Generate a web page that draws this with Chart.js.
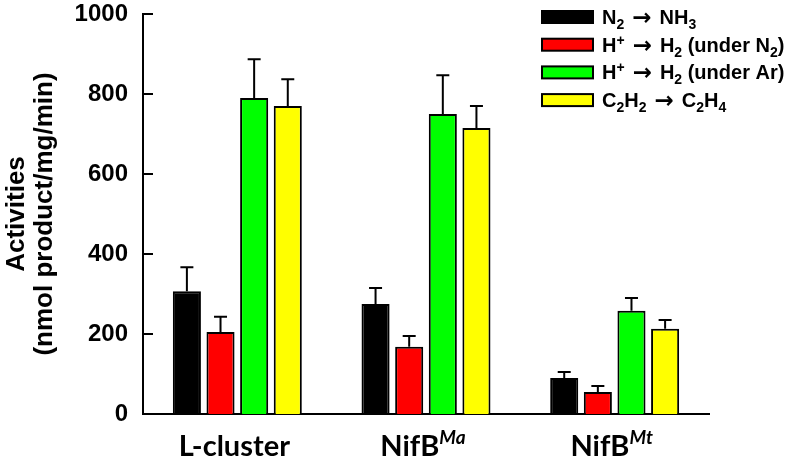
<!DOCTYPE html>
<html>
<head>
<meta charset="utf-8">
<script src="https://cdn.jsdelivr.net/npm/chart.js@4.4.0/dist/chart.umd.min.js"></script>
<style>
  html, body { margin: 0; padding: 0; background: #fff; }
</style>
</head>
<body>
<canvas id="myChart" width="796" height="468"></canvas>
<script>
// categorias e series (markup: _{..} subscrito, ^{..} sobrescrito)
const categories = ['L-cluster', 'NifB^{Ma}', 'NifB^{Mt}'];
const seriesNames = ['N_{2} → NH_{3}', 'H^{+} → H_{2} (under N_{2})', 'H^{+} → H_{2} (under Ar)', 'C_{2}H_{2} → C_{2}H_{4}'];
const seriesColors = ['#000000', '#ff0000', '#00ff00', '#ffff00'];

const n2ToNh3 = [307, 275, 90];
const n2ToNh3Err = [60, 40, 15];
const h2UnderN2 = [205, 168, 55];
const h2UnderN2Err = [38, 27, 15];
const h2UnderAr = [790, 750, 258];
const h2UnderArErr = [97, 97, 32];
const c2h2ToC2h4 = [770, 715, 213];
const c2h2ToC2h4Err = [67, 55, 22];

const yTicks = [0, 200, 400, 600, 800, 1000];

const seriesValues = [n2ToNh3, h2UnderN2, h2UnderAr, c2h2ToC2h4];
const seriesErrors = [n2ToNh3Err, h2UnderN2Err, h2UnderArErr, c2h2ToC2h4Err];

function parseRich(str) {
  const parts = [];
  const re = /([_^])\{([^}]*)\}|( → )/g;
  let last = 0, m;
  while ((m = re.exec(str)) !== null) {
    if (m.index > last) parts.push({ t: str.slice(last, m.index), k: 'n' });
    if (m[3]) parts.push({ t: m[3], k: 'arrow' });
    else parts.push({ t: m[2], k: m[1] === '_' ? 'sub' : 'sup' });
    last = re.lastIndex;
  }
  if (last < str.length) parts.push({ t: str.slice(last), k: 'n' });
  return parts;
}

// desenha texto com subscrito/sobrescrito
function drawRich(ctx, str, x, y, fonts, align) {
  const parts = parseRich(str);
  let total = 0;
  parts.forEach(p => { ctx.font = fonts[p.k].font; p.w = ctx.measureText(p.t).width; total += p.w; });
  let cx = align === 'center' ? x - total / 2 : x;
  ctx.textBaseline = 'alphabetic';
  ctx.textAlign = 'left';
  parts.forEach(p => {
    ctx.font = fonts[p.k].font;
    ctx.fillText(p.t, cx, y + fonts[p.k].dy);
    cx += p.w;
  });
}

const legendFonts = {
  n: { font: 'bold 20px "Liberation Sans", Arial', dy: 0 },
  sub: { font: 'bold 14px "Liberation Sans", Arial', dy: 5 },
  sup: { font: 'bold 14px "Liberation Sans", Arial', dy: -7 },
  arrow: { font: 'bold 23px "DejaVu Sans"', dy: 1 }
};
const catFonts = {
  n: { font: 'bold 29px Lato, "Liberation Sans"', dy: 0 },
  sub: { font: 'bold 18px Lato', dy: 6 },
  sup: { font: 'italic bold 19px Lato, "Liberation Sans"', dy: -12 },
  arrow: { font: 'bold 29px Lato', dy: 0 }
};

const extras = {
  id: 'extras',
  afterDatasetsDraw(chart) {
    const ctx = chart.ctx;
    const y = chart.scales.y;
    ctx.save();
    ctx.strokeStyle = '#000';
    ctx.lineWidth = 2;
    // barras de erro (so para cima)
    chart.data.datasets.forEach((ds, i) => {
      const meta = chart.getDatasetMeta(i);
      meta.data.forEach((bar, j) => {
        const top = y.getPixelForValue(ds.data[j] + seriesErrors[i][j]);
        ctx.beginPath();
        ctx.moveTo(bar.x, bar.y);
        ctx.lineTo(bar.x, top);
        ctx.moveTo(bar.x - 6.5, top);
        ctx.lineTo(bar.x + 6.5, top);
        ctx.stroke();
      });
    });
    ctx.restore();
  },
  afterDraw(chart) {
    const ctx = chart.ctx;
    const y = chart.scales.y;
    const x = chart.scales.x;
    const area = chart.chartArea;
    ctx.save();
    ctx.strokeStyle = '#000';
    ctx.lineWidth = 2;
    // ticks para dentro
    yTicks.forEach(v => {
      const py = Math.round(y.getPixelForValue(v));
      ctx.beginPath();
      ctx.moveTo(area.left, py);
      ctx.lineTo(area.left + 10, py);
      ctx.stroke();
    });
    // rotulos do eixo x
    ctx.fillStyle = '#000';
    categories.forEach((c, i) => {
      drawRich(ctx, c, x.getPixelForValue(i) - 3, 456, catFonts, 'center');
    });
    // legenda
    seriesNames.forEach((name, i) => {
      const cy = 17 + i * 27.7;
      ctx.fillStyle = seriesColors[i];
      ctx.fillRect(542, cy - 6, 51, 12);
      ctx.lineWidth = 2;
      ctx.strokeRect(542, cy - 6, 51, 12);
      ctx.fillStyle = '#000';
      drawRich(ctx, name, 602, cy + 7, legendFonts, 'left');
    });
    ctx.restore();
  }
};

const ctx = document.getElementById('myChart').getContext('2d');

const myChart = new Chart(ctx, {
  type: 'bar',
  data: {
    labels: categories,
    datasets: seriesNames.map((name, i) => ({
      label: name,
      data: seriesValues[i],
      backgroundColor: seriesColors[i],
      borderColor: '#000',
      borderWidth: 2,
      categoryPercentage: 0.713,
      barPercentage: 0.835
    }))
  },
  options: {
    responsive: false,
    animation: false,
    layout: { padding: { top: 14, right: 87, left: 0, bottom: 0 } },
    plugins: {
      legend: { display: false },
      tooltip: { enabled: false }
    },
    scales: {
      x: {
        grid: { display: false },
        border: { display: true, width: 2, color: '#000' },
        ticks: { display: false },
        afterFit: s => { s.height = 54; }
      },
      y: {
        min: 0,
        max: 1000,
        grid: { display: false, drawTicks: false },
        border: { display: true, width: 2, color: '#000' },
        ticks: {
          stepSize: 200,
          padding: 15,
          color: '#000',
          callback: v => String(v),
          font: { family: '"Liberation Sans", Arial', weight: 'bold', size: 24 }
        },
        title: {
          display: true,
          text: ['Activities', '(nmol product/mg/min)'],
          color: '#000',
          padding: { top: 3, bottom: 0 },
          font: { family: '"Liberation Sans", Arial', weight: 'bold', size: 26, lineHeight: 1.08 }
        },
        afterFit: s => { s.width = 143; s.paddingTop = 0; s.paddingBottom = 0; }
      }
    }
  },
  plugins: [extras]
});
</script>
</body>
</html>
